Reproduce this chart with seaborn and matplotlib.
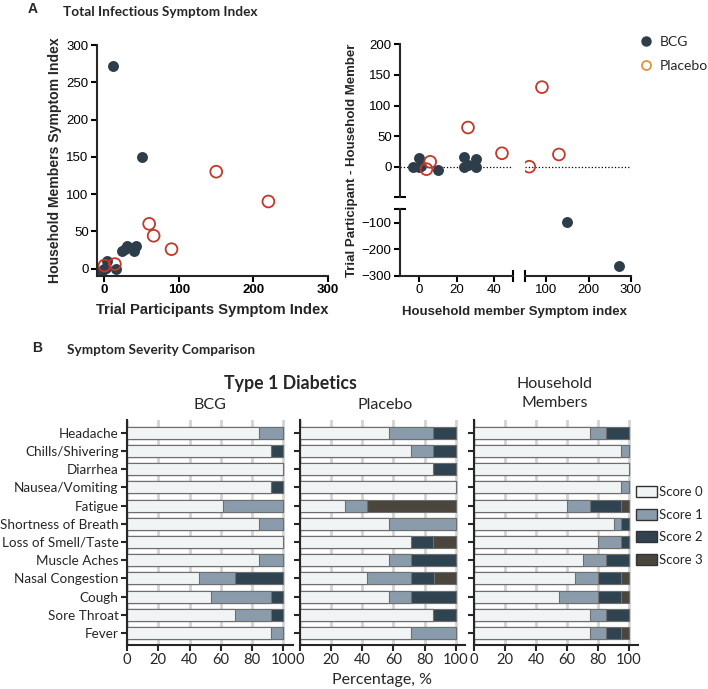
import numpy as np
import pandas as pd
import matplotlib
matplotlib.use("Agg")
import matplotlib.pyplot as plt
import seaborn as sns
from matplotlib.lines import Line2D
from matplotlib.patches import Patch

# ---- Panel A data: total infectious symptom index (participant vs household member)
bcg_participant = [-3, 0, 2, 15, 4, 24, 28, 30, 40, 42, 51, 11]
bcg_household = [-3, 0, 1, 0, 10, 24, 26, 30, 24, 30, 150, 272]
placebo_participant = [0, 14, 60, 66, 90, 150, 220]
placebo_household = [4, 6, 60, 44, 26, 130, 90]

# ---- Panel B data: % of subjects per severity score
symptoms = ["Headache", "Chills/Shivering", "Diarrhea", "Nausea/Vomiting", "Fatigue",
            "Shortness of Breath", "Loss of Smell/Taste", "Muscle Aches",
            "Nasal Congestion", "Cough", "Sore Throat", "Fever"]
score_labels = ["Score 0", "Score 1", "Score 2", "Score 3"]

bcg_s0 = [84.6, 92.3, 100, 92.3, 61.5, 84.6, 100, 84.6, 46.2, 53.8, 69.2, 92.3]
bcg_s1 = [15.4, 0, 0, 0, 38.5, 15.4, 0, 15.4, 23.1, 38.5, 23.1, 7.7]
bcg_s2 = [0, 7.7, 0, 7.7, 0, 0, 0, 0, 30.8, 7.7, 7.7, 0]
bcg_s3 = [0, 0, 0, 0, 0, 0, 0, 0, 0, 0, 0, 0]

pla_s0 = [57.1, 71.4, 85.7, 100, 28.6, 57.1, 71.4, 57.1, 42.9, 57.1, 85.7, 71.4]
pla_s1 = [28.6, 14.3, 0, 0, 14.3, 42.9, 0, 14.3, 28.6, 14.3, 0, 28.6]
pla_s2 = [14.3, 14.3, 14.3, 0, 0, 0, 14.3, 28.6, 14.3, 28.6, 14.3, 0]
pla_s3 = [0, 0, 0, 0, 57.1, 0, 14.3, 0, 14.3, 0, 0, 0]

hh_s0 = [75, 95, 100, 95, 60, 90, 80, 70, 65, 55, 75, 75]
hh_s1 = [10, 5, 0, 5, 15, 5, 15, 15, 15, 25, 10, 10]
hh_s2 = [15, 0, 0, 0, 20, 5, 5, 15, 15, 15, 15, 10]
hh_s3 = [0, 0, 0, 0, 5, 0, 0, 0, 5, 5, 0, 5]

dark = "#2d3e4a"
red = "#c0392b"
orange = "#e08b2f"
score_colors = ["#f1f4f5", "#8a9cab", "#2f4350", "#4b463d"]

sns.set_style("ticks")
plt.rcParams["font.family"] = ["Liberation Sans", "DejaVu Sans"]
plt.rcParams["axes.linewidth"] = 1.5

W, H = 708, 689
fig = plt.figure(figsize=(W / 100, H / 100), dpi=100)


def px_axes(left, top, right, bottom):
    return fig.add_axes([left / W, 1 - bottom / H, (right - left) / W, (bottom - top) / H])


def style_ticks(ax, size=9.5):
    ax.tick_params(direction="out", length=4, width=1.5, labelsize=size, pad=2, colors="black")


def scatter_groups(ax, x_bcg, y_bcg, x_pla, y_pla, xlim=None):
    x_bcg, y_bcg = np.asarray(x_bcg), np.asarray(y_bcg)
    x_pla, y_pla = np.asarray(x_pla), np.asarray(y_pla)
    if xlim is not None:
        mb = (x_bcg >= xlim[0]) & (x_bcg <= xlim[1])
        mp = (x_pla >= xlim[0]) & (x_pla <= xlim[1])
        x_bcg, y_bcg, x_pla, y_pla = x_bcg[mb], y_bcg[mb], x_pla[mp], y_pla[mp]
    sns.scatterplot(x=x_bcg, y=y_bcg, color=dark, s=62, linewidth=0, ax=ax)
    sns.scatterplot(x=x_pla, y=y_pla, s=72, ax=ax)
    ax.collections[-1].set_facecolor("none")
    ax.collections[-1].set_edgecolor(red)
    ax.collections[-1].set_linewidth(1.3)


# ---------------- Panel A, left ----------------
axA = px_axes(97, 45, 328, 276)
scatter_groups(axA, bcg_participant, bcg_household, placebo_participant, placebo_household)
axA.set_xlim(-10, 300)
axA.set_ylim(-10, 300)
axA.set_xticks([0, 100, 200, 300])
axA.set_yticks([0, 50, 100, 150, 200, 250, 300])
sns.despine(ax=axA)
style_ticks(axA)
for lab in axA.get_xticklabels():
    lab.set_fontweight("bold")
axA.set_xlabel("Trial Participants Symptom Index", fontsize=10.6, fontweight="bold", labelpad=5)
axA.set_ylabel("Household Members Symptom Index", fontsize=10.1, fontweight="bold", labelpad=3)

# ---------------- Panel A, right (broken axes) ----------------
xl = (400, 513.3)
xr = (525, 631)
yt = (44.3, 197.3)
yb = (209.3, 276)
ax_tl = px_axes(xl[0], yt[0], xl[1], yt[1])
ax_tr = px_axes(xr[0], yt[0], xr[1], yt[1])
ax_bl = px_axes(xl[0], yb[0], xl[1], yb[1])
ax_br = px_axes(xr[0], yb[0], xr[1], yb[1])

bcg_diff = np.array(bcg_participant) - np.array(bcg_household)
pla_diff = np.array(placebo_participant) - np.array(placebo_household)

for ax, xlim in ((ax_tl, (-10, 50)), (ax_bl, (-10, 50)), (ax_tr, (50, 300)), (ax_br, (50, 300))):
    scatter_groups(ax, bcg_household, bcg_diff, placebo_household, pla_diff, xlim=xlim)
    ax.set_xlim(*xlim)
    ax.set_facecolor("none")
    style_ticks(ax)
    for s in ax.spines.values():
        s.set_visible(False)

for ax in (ax_tl, ax_tr):
    ax.set_ylim(-50, 200)
    ax.axhline(0, color="black", ls=":", lw=0.9, zorder=0)
    ax.set_xticks([])
for ax in (ax_bl, ax_br):
    ax.set_ylim(-300, -50)
    ax.spines["bottom"].set_visible(True)
for ax in (ax_tl, ax_bl):
    ax.spines["left"].set_visible(True)
for ax in (ax_tr, ax_br):
    ax.set_yticks([])

ax_tl.set_yticks([0, 50, 100, 150, 200])
ax_bl.set_yticks([-100, -200, -300])
ax_bl.set_xticks([0, 20, 40])
ax_br.set_xticks([100, 200, 300])

# break caps
ax_tl.plot(0, 0, marker="_", ms=8, mew=1.5, color="black", transform=ax_tl.transAxes, clip_on=False)
ax_bl.plot(0, 1, marker="_", ms=8, mew=1.5, color="black", transform=ax_bl.transAxes, clip_on=False)
ax_bl.plot(1, 0, marker="|", ms=8, mew=1.5, color="black", transform=ax_bl.transAxes, clip_on=False)
ax_br.plot(0, 0, marker="|", ms=8, mew=1.5, color="black", transform=ax_br.transAxes, clip_on=False)

fig.text(515 / W, 1 - 312 / H, "Household member Symptom index", ha="center", va="center",
         fontsize=9.5, fontweight="bold")
fig.text(352 / W, 1 - 160 / H, "Trial Participant - Household Member", ha="center", va="center",
         rotation=90, fontsize=9.5, fontweight="bold")

legA = [Line2D([], [], marker="o", ls="", color=dark, ms=6.5, label="BCG"),
        Line2D([], [], marker="o", ls="", mfc="none", mec=orange, mew=1.2, ms=6.5, label="Placebo")]
fig.legend(handles=legA, loc="upper left", bbox_to_anchor=(638 / W, 1 - 36 / H), frameon=False,
           prop={"family": "Lato", "size": 10}, handletextpad=0.35, labelspacing=0.85,
           handlelength=1.2, borderaxespad=0, borderpad=0)

fig.text(28 / W, 1 - 9 / H, "A", fontsize=10, fontweight="bold", va="center")
fig.text(63 / W, 1 - 12 / H, "Total Infectious Symptom Index", fontsize=9.8, fontweight="bold",
         va="center", family="Lato")

# ---------------- Panel B ----------------
fig.text(32 / W, 1 - 348 / H, "B", fontsize=10, fontweight="bold", va="center")
fig.text(67 / W, 1 - 350 / H, "Symptom Severity Comparison", fontsize=9.8, fontweight="bold",
         va="center", family="Lato")

groups = [
    ("BCG", [bcg_s0, bcg_s1, bcg_s2, bcg_s3], (127, 292.7)),
    ("Placebo", [pla_s0, pla_s1, pla_s2, pla_s3], (300, 465)),
    ("Household\nMembers", [hh_s0, hh_s1, hh_s2, hh_s3], (474, 638.3)),
]
bar_axes = []
for i, (name, scores, (l, r)) in enumerate(groups):
    ax = px_axes(l, 420, r, 645)
    cum = np.cumsum(np.array(scores), axis=0)
    df = pd.DataFrame({"symptom": symptoms})
    for k in range(4):
        df[score_labels[k]] = cum[k]
    for k in [3, 2, 1, 0]:
        sns.barplot(data=df, x=score_labels[k], y="symptom", orient="y", color=score_colors[k],
                    saturation=1, width=0.66, edgecolor="#6e6e6e", linewidth=0.8, ax=ax)
    ax.set_xlim(0, 106)
    ax.set_ylim(11.66, -0.7)
    ax.set_xticks([0, 20, 40, 60, 80, 100])
    ax.set_axisbelow(True)
    ax.grid(axis="x", color="#d3d3d3", lw=2)
    ax.grid(axis="y", visible=False)
    sns.despine(ax=ax)
    ax.tick_params(direction="out", length=4, width=1.5, pad=2)
    ax.tick_params(axis="x", labelsize=10.6)
    ax.tick_params(axis="y", labelsize=9.7)
    for lab in ax.get_xticklabels() + ax.get_yticklabels():
        lab.set_family("Lato")
    ax.set_xlabel("")
    ax.set_ylabel("")
    if i > 0:
        ax.set_yticklabels([])
    bar_axes.append(ax)

bar_axes[1].set_xlabel("Percentage, %", fontsize=11.5, family="Lato", labelpad=4)
fig.text(290 / W, 1 - 383 / H, "Type 1 Diabetics", ha="center", va="center", fontsize=12.8,
         fontweight="bold", family="Lato")
fig.text(210 / W, 1 - 405 / H, "BCG", ha="center", va="center", fontsize=11.5, family="Lato")
fig.text(385 / W, 1 - 405 / H, "Placebo", ha="center", va="center", fontsize=11.5, family="Lato")
fig.text(555 / W, 1 - 393.5 / H, "Household\nMembers", ha="center", va="center", fontsize=11.5,
         family="Lato", linespacing=1.45)

legB = [Patch(facecolor=c, edgecolor="#333333", lw=1, label=s) for c, s in zip(score_colors, score_labels)]
fig.legend(handles=legB, loc="upper left", bbox_to_anchor=(636 / W, 1 - 486 / H), frameon=False,
           prop={"family": "Lato", "size": 9.5}, handletextpad=0.15, labelspacing=0.8,
           handlelength=1.6, handleheight=0.9, borderaxespad=0, borderpad=0)

fig.savefig("out.png", dpi=100)
